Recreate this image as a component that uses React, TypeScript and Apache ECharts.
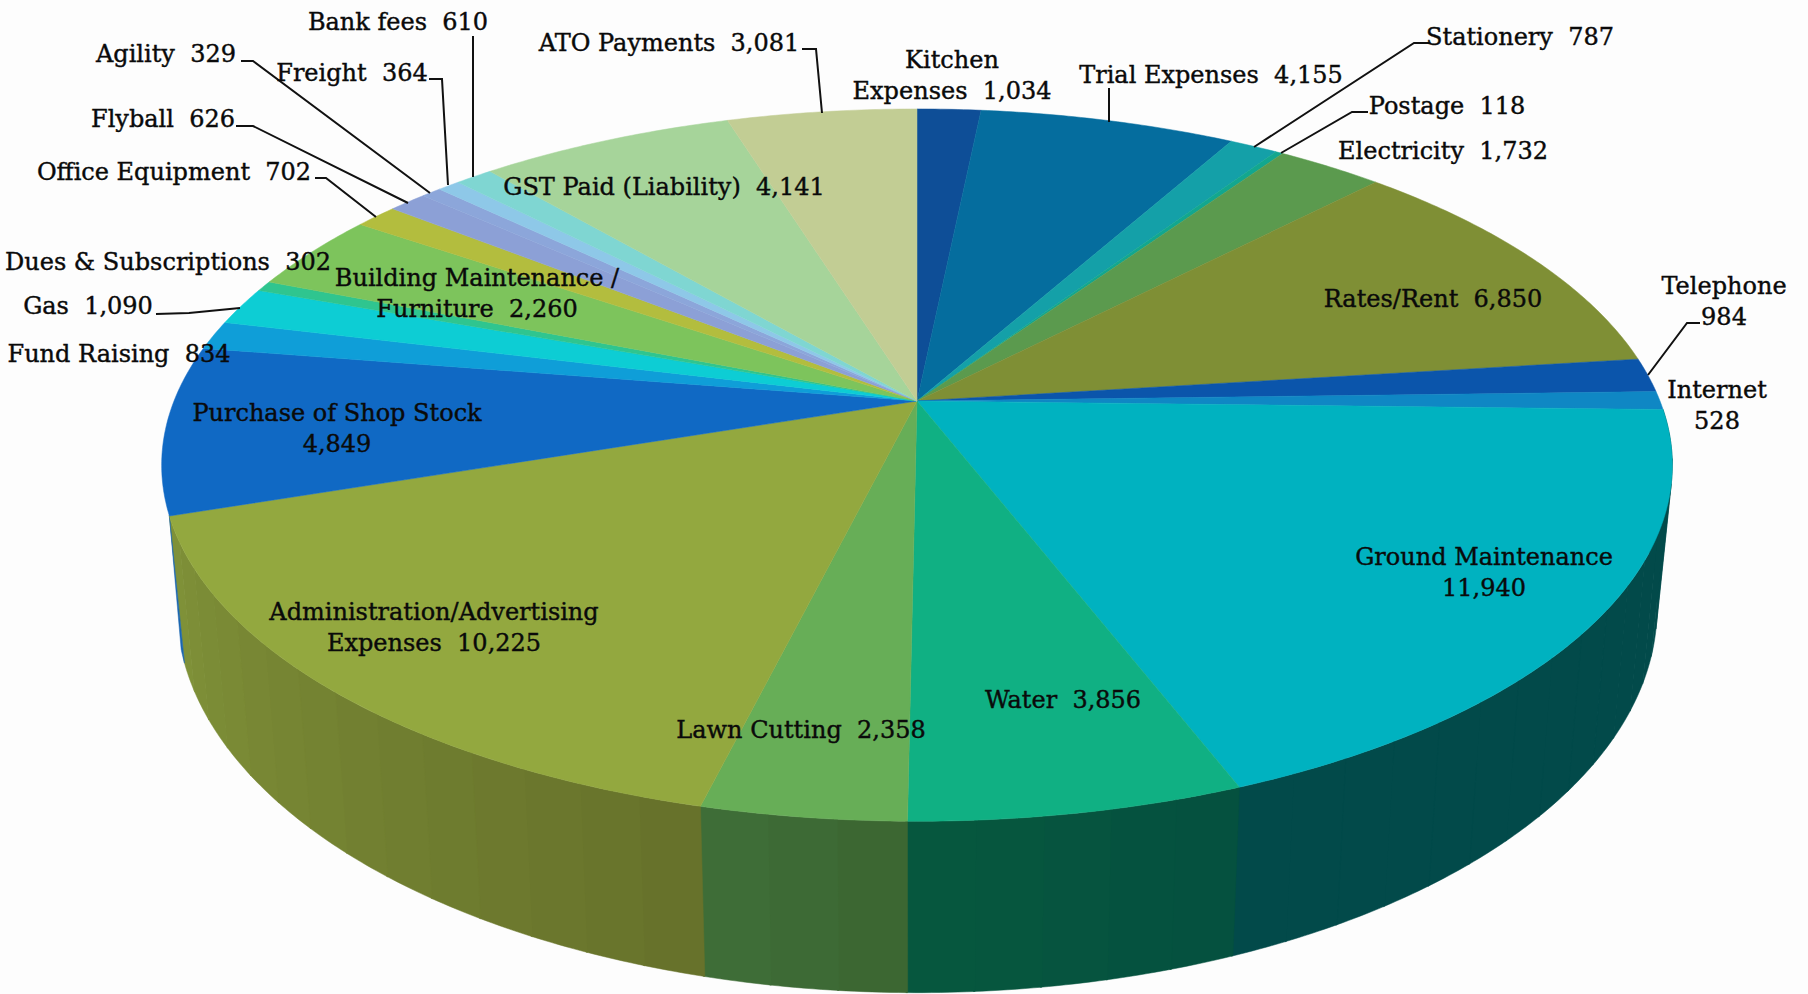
import React, { useEffect, useRef } from "react";
import * as echarts from "echarts";

const categories = [
  "Kitchen\nExpenses", "Trial Expenses", "Stationery", "Postage", "Electricity", "Rates/Rent",
  "Telephone\n", "Internet\n", "Ground Maintenance\n", "Water", "Lawn Cutting",
  "Administration/Advertising\nExpenses", "Purchase of Shop Stock\n", "Fund Raising", "Gas",
  "Dues & Subscriptions", "Building Maintenance /\nFurniture", "Office Equipment", "Flyball",
  "Agility", "Freight", "Bank fees", "GST Paid (Liability)", "ATO Payments",
];
const values = [
  1034, 4155, 787, 118, 1732, 6850, 984, 528, 11940, 3856, 2358, 10225, 4849, 834, 1090, 302,
  2260, 702, 626, 329, 364, 610, 4141, 3081,
];
const topColors = [
  "#0e4e97", "#056d9e", "#14a0a8", "#12a78f", "#5b9a4e", "#7f8f35", "#0b55ab", "#0f87c4",
  "#00b2c0", "#10b083", "#67ae57", "#93a83f", "#1069c4", "#0f9ed8", "#0dcdd4", "#2fc58f",
  "#7dc45c", "#b3bd3e", "#8ca0d6", "#8ca6da", "#8ec8e8", "#7fd6d2", "#a6d49a", "#c2cd94",
];
// wall shade at the start and end of each slice's visible rim
const wallColors: Record<number, [string, string]> = {
  8: ["#024a4a", "#024a4a"],
  9: ["#05503f", "#06583e"],
  10: ["#3c6631", "#3e6e38"],
  11: ["#66712a", "#809239"],
  12: ["#1a66b0", "#1a66b0"],
};

// [label x, label y, leader polyline points]
const labelLayout: [number, number, number[][]][] = [
  [952, 75, []],
  [1211, 75, [[1109, 88], [1109, 122]]],
  [1520, 37, [[1430, 43], [1414, 43], [1254, 147]]],
  [1447, 106, [[1368, 112], [1352, 112], [1281, 153]]],
  [1443, 151, []],
  [1433, 299, []],
  [1724, 301, [[1700, 323], [1687, 323], [1648, 375]]],
  [1717, 405, []],
  [1484, 572, []],
  [1063, 700, []],
  [801, 730, []],
  [434, 627, []],
  [337, 428, []],
  [119, 354, []],
  [88, 306, [[156, 314], [189, 313], [240, 308]]],
  [168, 262, []],
  [477, 293, []],
  [174, 172, [[315, 178], [326, 178], [376, 217]]],
  [163, 119, [[236, 126], [253, 126], [408, 203]]],
  [166, 54, [[241, 61], [253, 61], [430, 193]]],
  [352, 73, [[429, 79], [442, 79], [448, 185]]],
  [398, 22, [[473, 36], [473, 177]]],
  [664, 187, []],
  [669, 43, [[802, 49], [816, 49], [822, 113]]],
];

const APEX_X = 917;
const APEX_Y = 401;
const K = 0.18;
const TOP = { a: 743, b: 344.6, d: 0 };
const BOTTOM = { a: 728, b: 372, d: 138 };
const SLIVER_SLICE = 12;
const SLIVER_ANGLE = 0.035;

const total = values.reduce((s, v) => s + v, 0);
const starts: number[] = [];
values.reduce((s, v, i) => {
  starts[i] = s;
  return s + v;
}, 0);
const toAngle = (v: number) => (v / total) * 2 * Math.PI;

function project(angle: number, p: { a: number; b: number; d: number }) {
  const x = Math.sin(angle);
  const y = Math.cos(angle);
  const w = 1 + K * y;
  return [APEX_X + (p.a * x) / w, APEX_Y + p.d - (p.b * y) / w];
}

function arc(a0: number, a1: number, p: { a: number; b: number; d: number }) {
  const n = Math.max(2, Math.ceil((a1 - a0) / 0.01));
  const pts: number[][] = [];
  for (let i = 0; i <= n; i++) pts.push(project(a0 + ((a1 - a0) * i) / n, p));
  return pts;
}

function mix(c0: string, c1: string, t: number) {
  const ch = (c: string, i: number) => parseInt(c.slice(1 + i * 2, 3 + i * 2), 16);
  const out = [0, 1, 2].map((i) => Math.round(ch(c0, i) + (ch(c1, i) - ch(c0, i)) * t));
  return `rgb(${out.join(",")})`;
}

function renderWall(params: any, api: any) {
  const i = params.dataIndex;
  const shades = wallColors[i];
  if (!shades) return { type: "group", children: [] };
  const a0 = toAngle(starts[i]);
  if (i === SLIVER_SLICE) {
    // only a hairline of this slice's rim shows beside the neighbouring wall
    return {
      type: "polygon",
      shape: { points: [project(a0, TOP), ...arc(a0, a0 + SLIVER_ANGLE, BOTTOM).reverse()] },
      style: { fill: shades[0], stroke: shades[0], lineWidth: 0.5 },
    };
  }
  const a1 = a0 + toAngle(api.value(0));
  const n = Math.max(1, Math.round((a1 - a0) / 0.07));
  const children: any[] = [];
  for (let f = 0; f < n; f++) {
    const s = a0 + ((a1 - a0) * f) / n;
    const e = a0 + ((a1 - a0) * (f + 1)) / n + 0.002;
    const fill = mix(shades[0], shades[1], (f + 0.5) / n);
    children.push({
      type: "polygon",
      shape: { points: [...arc(s, e, TOP), ...arc(s, e, BOTTOM).reverse()] },
      style: { fill, stroke: fill, lineWidth: 0.5 },
    });
  }
  return { type: "group", children };
}

function renderTop(params: any, api: any) {
  const i = params.dataIndex;
  const a0 = toAngle(starts[i]);
  const a1 = a0 + toAngle(api.value(0));
  return {
    type: "polygon",
    shape: { points: [[APEX_X, APEX_Y], ...arc(a0, a1, TOP)] },
    style: { fill: topColors[i], stroke: topColors[i], lineWidth: 0.5 },
  };
}

function renderLabel(params: any, api: any) {
  const i = params.dataIndex;
  const [x, y, leader] = labelLayout[i];
  const text = `${categories[i]}${categories[i].endsWith("\n") ? "" : "  "}${api
    .value(0)
    .toLocaleString("en-US")}`;
  const children: any[] = [];
  if (leader.length) {
    children.push({
      type: "polyline",
      shape: { points: leader },
      style: { fill: "none", stroke: "#111111", lineWidth: 2 },
    });
  }
  children.push({
    type: "text",
    x,
    y,
    style: {
      text,
      fill: "#0a0a0a",
      stroke: "#0a0a0a",
      lineWidth: 0.4,
      font: '24px "DejaVu Serif"',
      lineHeight: 31,
      align: "center",
      verticalAlign: "middle",
    },
  });
  return { type: "group", children };
}

export default function App() {
  const ref = useRef<HTMLDivElement>(null);
  useEffect(() => {
    document.body.style.margin = "0";
    const chart = echarts.init(ref.current!, null, { renderer: "svg" });
    const data = values.map((v, i) => ({ name: categories[i], value: [v] }));
    chart.setOption({
      animation: false,
      backgroundColor: "#fdfdfd",
      series: [
        { type: "custom", coordinateSystem: "none", z: 1, renderItem: renderWall, data, silent: true },
        { type: "custom", coordinateSystem: "none", z: 2, renderItem: renderTop, data, silent: true },
        { type: "custom", coordinateSystem: "none", z: 3, renderItem: renderLabel, data, silent: true },
      ],
    });
    return () => chart.dispose();
  }, []);
  return <div ref={ref} style={{ width: 1808, height: 994 }} />;
}
